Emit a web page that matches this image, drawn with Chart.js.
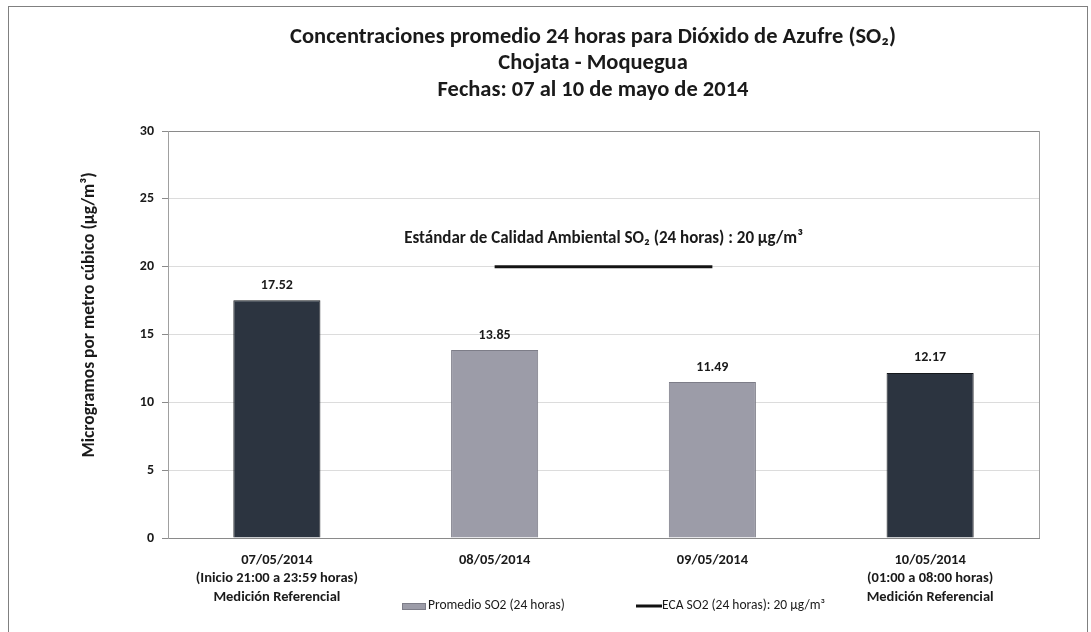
<!DOCTYPE html>
<html>
<head>
<meta charset="utf-8">
<script src="https://cdn.jsdelivr.net/npm/chart.js@4.4.1/dist/chart.umd.min.js"></script>
<style>
html,body{margin:0;padding:0;background:#fff;}
#wrap{position:relative;width:1091px;height:632px;}
</style>
</head>
<body>
<div id="wrap"><canvas id="c" width="1091" height="632"></canvas></div>
<script>
const FONT = 'Carlito, Lato, "Liberation Sans", sans-serif';
const titleLines = [
  'Concentraciones promedio 24 horas para Dióxido de Azufre (SO₂)',
  'Chojata - Moquegua',
  'Fechas: 07 al 10 de mayo de 2014'
];
const categories = [
  ['07/05/2014', '(Inicio 21:00 a 23:59 horas)', 'Medición Referencial'],
  ['08/05/2014'],
  ['09/05/2014'],
  ['10/05/2014', '(01:00 a 08:00 horas)', 'Medición Referencial']
];
const promedioSO2 = [17.52, 13.85, 11.49, 12.17];
const ecaSO2 = [null, 20, 20, null];
const referencial = [true, false, false, true];
const yTicks = {min: 0, max: 30, step: 5};
const yTitle = 'Microgramos por metro cúbico (µg/m³)';
const standardText = 'Estándar de Calidad Ambiental SO₂ (24 horas) : 20 µg/m³';
const seriesNames = ['Promedio SO2 (24 horas)', 'ECA SO2 (24 horas): 20 µg/m³'];

const DARK = '#2c3440', LIGHT = '#9c9ca8';

const decor = {
  id: 'decor',
  beforeDraw(chart) {
    const c = chart.ctx;
    c.save();
    c.fillStyle = '#fff';
    c.fillRect(0, 0, chart.width, chart.height);
    c.strokeStyle = '#808080';
    c.lineWidth = 1;
    c.strokeRect(8.5, 6.5, 1079, 640);
    c.restore();
  },
  afterDraw(chart) {
    const c = chart.ctx;
    const a = chart.chartArea;
    c.save();
    // right frame of plot
    c.strokeStyle = '#a0a0a0';
    c.lineWidth = 1;
    c.beginPath();
    c.moveTo(Math.round(a.right) + 0.5, a.top);
    c.lineTo(Math.round(a.right) + 0.5, a.bottom);
    c.stroke();
    // titles
    c.fillStyle = '#1a1a1a';
    c.textAlign = 'center';
    c.textBaseline = 'middle';
    c.font = 'bold 22.5px ' + FONT;
    const ys = [37, 63, 90];
    titleLines.forEach((t, i) => c.fillText(t, 593, ys[i]));
    // y axis title
    c.save();
    c.translate(90, 315);
    c.rotate(-Math.PI / 2);
    c.font = 'bold 17.5px ' + FONT;
    c.fillText(yTitle, 0, 0);
    c.restore();
    // data labels
    const meta = chart.getDatasetMeta(0);
    c.font = 'bold 14px ' + FONT;
    meta.data.forEach((b, i) => {
      c.fillText(promedioSO2[i].toFixed(2), b.x, b.y - 15);
    });
    // standard annotation
    const lm = chart.getDatasetMeta(1);
    const pts = lm.data.filter((p, i) => ecaSO2[i] !== null);
    const cx = (pts[0].x + pts[pts.length - 1].x) / 2;
    const yy = chart.scales.y.getPixelForValue(20);
    c.font = 'bold 17px ' + FONT;
    c.fillText(standardText, cx, yy - 28);
    // legend
    c.font = '13.5px ' + FONT;
    c.textAlign = 'left';
    const ly = 606;
    c.fillStyle = LIGHT;
    c.fillRect(402, ly - 3, 24, 7);
    c.strokeStyle = '#7d7d88';
    c.lineWidth = 1;
    c.strokeRect(402.5, ly - 2.5, 23, 6);
    c.fillStyle = '#1a1a1a';
    c.fillText(seriesNames[0], 428, ly);
    c.strokeStyle = '#111';
    c.lineWidth = 3;
    c.beginPath();
    c.moveTo(636, ly);
    c.lineTo(662, ly);
    c.stroke();
    c.fillText(seriesNames[1], 662, ly);
    c.restore();
  }
};

new Chart(document.getElementById('c'), {
  data: {
    labels: categories,
    datasets: [
      {
        type: 'bar',
        label: seriesNames[0],
        data: promedioSO2,
        backgroundColor: referencial.map(r => r ? DARK : LIGHT),
        borderColor: referencial.map(r => r ? '#15181c' : '#7d7d88'),
        borderWidth: 1,
        barPercentage: 0.4,
        categoryPercentage: 1.0,
        order: 2
      },
      {
        type: 'line',
        label: seriesNames[1],
        data: ecaSO2,
        borderColor: '#141414',
        borderWidth: 3,
        pointRadius: 0,
        fill: false,
        spanGaps: false,
        order: 1
      }
    ]
  },
  options: {
    responsive: false,
    animation: false,
    devicePixelRatio: 1,
    layout: {padding: {left: 78, right: 52, top: 131, bottom: 0}},
    plugins: {legend: {display: false}, title: {display: false}, tooltip: {enabled: false}},
    scales: {
      x: {
        type: 'category',
        offset: true,
        grid: {display: false},
        border: {display: true, color: '#8a8a8a'},
        ticks: {color: '#1a1a1a', font: {family: FONT, size: 14.5, weight: 'bold', lineHeight: 1.28}, padding: 5, maxRotation: 0, autoSkip: false},
        afterFit(s) { s.height = 94; }
      },
      y: {
        min: yTicks.min,
        max: yTicks.max,
        ticks: {stepSize: yTicks.step, color: '#1a1a1a', font: {family: FONT, size: 14, weight: 'bold'}, padding: 8},
        grid: {
          color: ctx => (ctx.tick && ctx.tick.value === yTicks.max) ? '#8a8a8a' : '#dcdcdc',
          tickColor: '#8a8a8a',
          tickLength: 6
        },
        border: {display: true, color: '#a0a0a0'},
        title: {display: false},
        afterFit(s) { s.width = 90; }
      }
    }
  },
  plugins: [decor]
});
</script>
</body>
</html>
